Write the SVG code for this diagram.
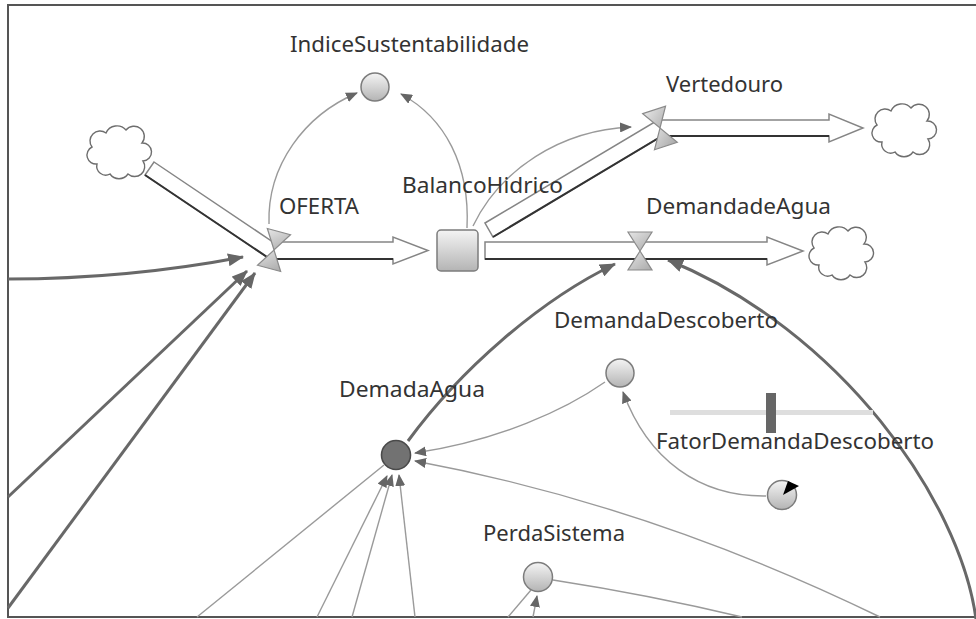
<svg xmlns="http://www.w3.org/2000/svg" width="976" height="619" viewBox="0 0 976 619">
  <style>
    .lbl { font-family: "Noto Sans", "Open Sans", "DejaVu Sans", sans-serif; font-size: 21px; fill: #333; }
    .pipe { fill: #fff; stroke: #858585; stroke-width: 1.5; stroke-linejoin: miter; }
    .pipe-shade { fill: none; stroke: #333; stroke-width: 2; }
    .aux { fill: url(#gAux); stroke: #7c7c7c; stroke-width: 1.5; }
    .cloud { fill: #fff; stroke: #6e6e6e; stroke-width: 1.4; }
    .thin { fill: none; stroke: #9a9a9a; stroke-width: 1.4; }
    .thick { fill: none; stroke: #686868; stroke-width: 3; }
    .frame { fill: none; stroke: #555; stroke-width: 2; }
  </style>
  <defs>
    <linearGradient id="gAux" x1="0" y1="0" x2="0" y2="1">
      <stop offset="0" stop-color="#f4f4f4"/>
      <stop offset="1" stop-color="#b4b4b4"/>
    </linearGradient>
    <linearGradient id="gValve" x1="0" y1="0" x2="1" y2="1">
      <stop offset="0" stop-color="#e6e6e6"/>
      <stop offset="1" stop-color="#a9a9a9"/>
    </linearGradient>
    <marker id="ahThin" viewBox="0 0 12 10" refX="11" refY="5" markerWidth="12" markerHeight="10" markerUnits="userSpaceOnUse" orient="auto">
      <path d="M0,0 L12,5 L0,10 Z" fill="#666"/>
    </marker>
    <marker id="ahThick" viewBox="0 0 16 13" refX="15" refY="6.5" markerWidth="16" markerHeight="13" markerUnits="userSpaceOnUse" orient="auto">
      <path d="M0,0 L16,6.5 L0,13 Z" fill="#666"/>
    </marker>
    <g id="valve">
      <polygon points="-12,-19 12,-19 0,0" fill="url(#gValve)" stroke="#8a8a8a" stroke-width="1.2"/>
      <polygon points="-12,19 12,19 0,0" fill="url(#gValve)" stroke="#8a8a8a" stroke-width="1.2"/>
    </g>
    <path id="cloudShape" class="cloud" d="M-21,13 A9,9 0 0 1 -26,-4 A10,10 0 0 1 -12,-18 A12,12 0 0 1 8,-21 A10,10 0 0 1 24,-8 A9,9 0 0 1 25,10 A10,10 0 0 1 10,23 A11,11 0 0 1 -8,23 A9,9 0 0 1 -21,13 Z"/>
  </defs>

  <!-- canvas frame -->
  <polyline class="frame" points="976,5 8,5 8,617 976,617"/>

  <!-- connectors -->
  <g id="connectors">
    <path class="thin" d="M269,224 C267,165 305,115 357,93" marker-end="url(#ahThin)"/>
    <path class="thin" d="M467,228 C470,165 445,118 401,94" marker-end="url(#ahThin)"/>
    <path class="thin" d="M473,226 C500,170 560,130 631,127" marker-end="url(#ahThin)"/>
    <path class="thin" d="M605,382 C565,410 500,440 415,453" marker-end="url(#ahThin)"/>
    <path class="thin" d="M766,496 C700,497 648,460 623,392" marker-end="url(#ahThin)"/>
    <path class="thin" d="M880,617 Q650,505 415,461" marker-end="url(#ahThin)"/>
    <path class="thin" d="M553,580 Q650,595 742,617"/>
    <path class="thin" d="M531,590 L508,617"/>
    <path class="thin" d="M533,617 L537,596" marker-end="url(#ahThin)"/>
    <path class="thin" d="M197,617 L384,465"/>
    <path class="thin" d="M317,617 L387,476" marker-end="url(#ahThin)"/>
    <path class="thin" d="M352,617 L392,475" marker-end="url(#ahThin)"/>
    <path class="thin" d="M415,617 L399,475" marker-end="url(#ahThin)"/>

    <path class="thick" d="M8,279 C100,279 180,269 243,257" marker-end="url(#ahThick)"/>
    <path class="thick" d="M8,497 L247,271" marker-end="url(#ahThick)"/>
    <path class="thick" d="M8,608 L255,273" marker-end="url(#ahThick)"/>
    <path class="thick" d="M408,441 C460,370 540,300 615,264" marker-end="url(#ahThick)"/>
    <path class="thick" d="M976,619 C960,500 840,330 668,260" marker-end="url(#ahThick)"/>
  </g>

  <!-- clouds -->
  <g id="cloud-source"><use href="#cloudShape" transform="translate(118,151)"/></g>
  <g id="cloud-vertedouro"><use href="#cloudShape" transform="translate(903,129)"/></g>
  <g id="cloud-demanda"><use href="#cloudShape" transform="translate(840,252)"/></g>

  <!-- flow OFERTA -->
  <g id="OFERTA">
    <polygon class="pipe" points="154,162 273,242 393,242 393,237 428,250.5 393,264 393,259 270,259 145,175"/>
    <polyline class="pipe-shade" points="145,175 270,259 393,259"/>
    <use href="#valve" transform="translate(274,250) rotate(15)"/>
    <text class="lbl" x="279" y="214" textLength="80" lengthAdjust="spacingAndGlyphs">OFERTA</text>
  </g>

  <!-- flow Vertedouro -->
  <g id="Vertedouro">
    <polygon class="pipe" points="485,223 658,120 829,120 829,114 863,128 829,142 829,136 662,136 493,237"/>
    <polyline class="pipe-shade" points="493,237 662,136 829,136"/>
    <use href="#valve" transform="translate(660,128) rotate(-18)"/>
    <text class="lbl" x="666" y="92" textLength="117" lengthAdjust="spacingAndGlyphs">Vertedouro</text>
  </g>

  <!-- flow DemandadeAgua -->
  <g id="DemandadeAgua">
    <polygon class="pipe" points="485,242 767,242 767,237 803,251 767,265 767,259 485,259"/>
    <line class="pipe-shade" x1="485" y1="259" x2="767" y2="259"/>
    <use href="#valve" transform="translate(640,251)"/>
    <text class="lbl" x="646" y="214" textLength="185" lengthAdjust="spacingAndGlyphs">DemandadeAgua</text>
  </g>

  <!-- stock -->
  <g id="BalancoHidrico">
    <rect x="437" y="230" width="41" height="41" rx="4" fill="url(#gAux)" stroke="#7c7c7c" stroke-width="1.5"/>
    <text class="lbl" x="402" y="193" textLength="161" lengthAdjust="spacingAndGlyphs">BalancoHidrico</text>
  </g>

  <!-- auxiliaries -->
  <g id="IndiceSustentabilidade">
    <circle class="aux" cx="375" cy="87" r="14"/>
    <text class="lbl" x="290" y="52" textLength="239" lengthAdjust="spacingAndGlyphs">IndiceSustentabilidade</text>
  </g>

  <g id="DemandaDescoberto">
    <circle class="aux" cx="620" cy="373" r="14"/>
    <text class="lbl" x="554" y="328" textLength="224" lengthAdjust="spacingAndGlyphs">DemandaDescoberto</text>
  </g>

  <g id="DemadaAgua">
    <circle cx="396" cy="455" r="14.5" fill="#727272" stroke="#4a4a4a" stroke-width="1.6"/>
    <text class="lbl" x="339" y="397" textLength="146" lengthAdjust="spacingAndGlyphs">DemadaAgua</text>
  </g>

  <g id="FatorDemandaDescoberto">
    <rect x="670" y="410" width="203" height="5" fill="#dedede"/>
    <rect x="766" y="393" width="10" height="40" fill="#666"/>
    <text class="lbl" x="656" y="449" textLength="278" lengthAdjust="spacingAndGlyphs">FatorDemandaDescoberto</text>
    <circle class="aux" cx="782" cy="495" r="14.5"/>
    <polygon points="783,495 788,481 799,486" fill="#000"/>
  </g>

  <g id="PerdaSistema">
    <circle class="aux" cx="538" cy="577" r="14.5"/>
    <text class="lbl" x="483" y="541" textLength="142" lengthAdjust="spacingAndGlyphs">PerdaSistema</text>
  </g>
</svg>
